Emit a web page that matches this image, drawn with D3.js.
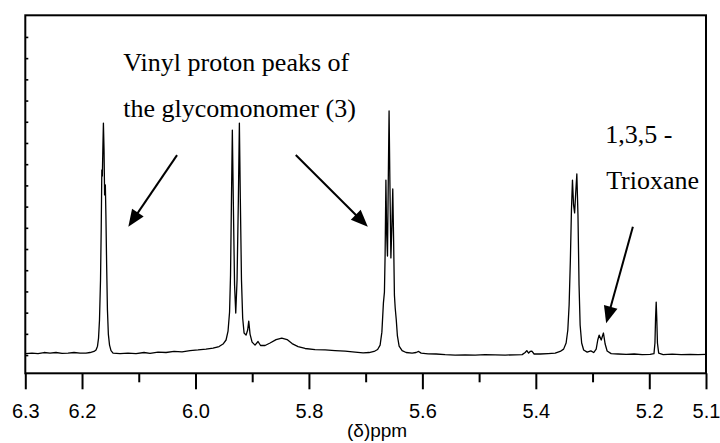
<!DOCTYPE html>
<html>
<head>
<meta charset="utf-8">
<script src="https://cdn.jsdelivr.net/npm/d3@7/dist/d3.min.js"></script>
<style>
  html, body { margin: 0; padding: 0; background: #fff; }
  svg { display: block; }
</style>
</head>
<body>
<svg id="chart" width="720" height="443"></svg>
<script>
// 1H NMR trace: chemical shift (ppm) and intensity (a.u.)
const shiftPpm = [
  6.3000, 6.2882, 6.2776, 6.2670, 6.2564, 6.2459, 6.2353, 6.2247, 6.2141, 6.2035,
  6.1930, 6.1859, 6.1789, 6.1753, 6.1727, 6.1709, 6.1692, 6.1674, 6.1662, 6.1651,
  6.1642, 6.1633, 6.1623, 6.1612, 6.1602, 6.1589, 6.1579, 6.1566, 6.1552, 6.1536,
  6.1515, 6.1489, 6.1453, 6.1330, 6.1189, 6.1048, 6.0907, 6.0801, 6.0660, 6.0519,
  6.0378, 6.0237, 6.0096, 5.9955, 5.9814, 5.9690, 5.9584, 5.9514, 5.9461, 5.9426,
  5.9399, 5.9382, 5.9367, 5.9350, 5.9332, 5.9311, 5.9290, 5.9267, 5.9244, 5.9226,
  5.9209, 5.9189, 5.9168, 5.9143, 5.9108, 5.9080, 5.9061, 5.9038, 5.9002, 5.8950,
  5.8897, 5.8853, 5.8773, 5.8685, 5.8579, 5.8479, 5.8385, 5.8297, 5.8191, 5.8068,
  5.7892, 5.7715, 5.7539, 5.7362, 5.7186, 5.7045, 5.6939, 5.6851, 5.6789, 5.6745,
  5.6714, 5.6687, 5.6669, 5.6657, 5.6643, 5.6629, 5.6615, 5.6601, 5.6587, 5.6573,
  5.6555, 5.6537, 5.6522, 5.6507, 5.6493, 5.6479, 5.6460, 5.6440, 5.6410, 5.6357,
  5.6287, 5.6181, 5.6111, 5.6066, 5.6022, 5.5899, 5.5758, 5.5599, 5.5423, 5.5247,
  5.5070, 5.4894, 5.4718, 5.4541, 5.4365, 5.4241, 5.4188, 5.4159, 5.4127, 5.4100,
  5.4070, 5.4030, 5.3924, 5.3783, 5.3659, 5.3571, 5.3510, 5.3466, 5.3436, 5.3413,
  5.3391, 5.3372, 5.3354, 5.3335, 5.3316, 5.3296, 5.3277, 5.3257, 5.3238, 5.3219,
  5.3192, 5.3157, 5.3095, 5.3030, 5.2980, 5.2936, 5.2908, 5.2884, 5.2847, 5.2808,
  5.2778, 5.2743, 5.2672, 5.2549, 5.2407, 5.2266, 5.2125, 5.1984, 5.1917, 5.1900,
  5.1889, 5.1878, 5.1868, 5.1856, 5.1834, 5.1755, 5.1596, 5.1438, 5.1279, 5.1138,
  5.1000
];
const intensity = [
  0.07, 0.09, 0.07, 0.12, 0.09, 0.12, 0.08, 0.09, 0.12, 0.09,
  0.09, 0.12, 0.17, 0.24, 0.42, 0.80, 1.65, 3.54, 5.90, 8.73,
  8.44, 9.67, 10.94, 9.67, 7.55, 8.02, 6.60, 4.25, 2.12, 0.99,
  0.47, 0.21, 0.09, 0.07, 0.09, 0.07, 0.12, 0.08, 0.14, 0.12,
  0.17, 0.15, 0.21, 0.24, 0.28, 0.33, 0.40, 0.52, 0.71, 1.13,
  2.03, 3.77, 7.08, 10.61, 7.08, 3.30, 1.98, 3.54, 7.31, 10.94,
  7.31, 3.54, 1.75, 1.04, 0.94, 1.18, 1.60, 0.99, 0.61, 0.47,
  0.64, 0.45, 0.45, 0.57, 0.73, 0.80, 0.73, 0.54, 0.40, 0.31,
  0.26, 0.24, 0.21, 0.19, 0.14, 0.10, 0.12, 0.17, 0.26, 0.47,
  1.08, 2.45, 2.97, 4.72, 8.25, 5.66, 4.67, 8.25, 11.51, 8.25,
  4.58, 6.13, 7.83, 5.42, 2.83, 2.22, 1.65, 0.90, 0.42, 0.21,
  0.12, 0.09, 0.12, 0.17, 0.09, 0.06, 0.05, 0.02, 0.00, 0.01,
  0.00, 0.02, 0.01, 0.00, 0.01, 0.02, 0.12, 0.21, 0.09, 0.17,
  0.19, 0.05, 0.05, 0.07, 0.09, 0.17, 0.28, 0.57, 1.18, 2.36,
  4.48, 6.84, 8.25, 7.08, 6.70, 7.69, 8.54, 6.60, 3.30, 1.42,
  0.57, 0.24, 0.14, 0.20, 0.12, 0.28, 0.71, 0.94, 0.71, 1.04,
  0.52, 0.19, 0.07, 0.05, 0.03, 0.05, 0.02, 0.03, 0.07, 0.57,
  1.75, 2.50, 1.75, 0.57, 0.09, 0.02, 0.04, 0.02, 0.03, 0.02,
  0.03
];

// x-axis ticks
const majorTicks = [6.3, 6.2, 6.0, 5.8, 5.6, 5.4, 5.2, 5.1];
const minorTicks = [6.1, 5.9, 5.7, 5.5, 5.3];
const yTicks = [0, 1, 2, 3, 4, 5, 6, 7, 8, 9, 10, 11, 12, 13, 14, 15];
const axisTitle = "(δ)ppm";

// annotation text (anchor in ppm / intensity)
const noteLines = ["Vinyl proton peaks of", "the glycomonomer (3)", "1,3,5 -", "Trioxane"];
const notePpm = [6.1272, 6.1272, 5.2778, 5.2760];
const noteInt = [13.40, 11.23, 10.00, 7.83];

// arrows: start -> tip (ppm / intensity)
const arrowFromPpm = [6.0325, 5.8232, 5.2289];
const arrowFromInt = [9.43, 9.43, 6.05];
const arrowToPpm = [6.1184, 5.6962, 5.2760];
const arrowToInt = [6.05, 6.05, 1.50];

const svg = d3.select("#chart");
const plotLeft = 25.3, plotRight = 706, plotTop = 15.3, plotBottom = 373.3;

const x = d3.scaleLinear().domain([6.3, 5.1]).range([plotLeft, plotRight]);
const y = d3.scaleLinear().domain([-0.86, 16.02]).range([plotBottom, plotTop]);

// spectrum
const pts = shiftPpm.map((p, i) => [p, intensity[i]]);
const line = d3.line().x(d => x(d[0])).y(d => y(d[1]));
svg.append("path")
  .datum(pts)
  .attr("d", line)
  .attr("fill", "none")
  .attr("stroke", "#000")
  .attr("stroke-width", 1.3)
  .attr("stroke-linejoin", "round");

// frame
svg.append("rect")
  .attr("x", plotLeft).attr("y", plotTop)
  .attr("width", plotRight - plotLeft).attr("height", plotBottom - plotTop)
  .attr("fill", "none").attr("stroke", "#000").attr("stroke-width", 2);

// y axis: short inward ticks, no labels
const yAxis = svg.append("g")
  .attr("transform", `translate(${plotLeft},0)`)
  .call(d3.axisLeft(y).tickValues(yTicks).tickSizeInner(-3).tickSizeOuter(0).tickFormat(""));
yAxis.select(".domain").remove();
yAxis.selectAll("line").attr("stroke", "#000").attr("stroke-width", 1.6);

// x axis: minor ticks
const xMinor = svg.append("g")
  .attr("transform", `translate(0,${plotBottom})`)
  .call(d3.axisBottom(x).tickValues(minorTicks).tickSizeInner(9).tickSizeOuter(0).tickFormat(""));
xMinor.select(".domain").remove();
xMinor.selectAll("line").attr("stroke", "#000").attr("stroke-width", 2);

// x axis: major ticks with labels
const xMajor = svg.append("g")
  .attr("transform", `translate(0,${plotBottom})`)
  .call(d3.axisBottom(x).tickValues(majorTicks).tickSizeInner(16).tickSizeOuter(0).tickFormat(d3.format(".1f")));
xMajor.select(".domain").remove();
xMajor.selectAll("line").attr("stroke", "#000").attr("stroke-width", 2);
xMajor.selectAll("text")
  .attr("y", 418 - plotBottom)
  .attr("dy", 0)
  .attr("fill", "#000")
  .style("font-family", "'Liberation Sans', Arial, sans-serif")
  .style("font-size", "20px");

// axis title
svg.append("text")
  .attr("x", 347).attr("y", 437)
  .style("font-family", "'Liberation Sans', Arial, sans-serif")
  .style("font-size", "19px")
  .attr("fill", "#000")
  .text(axisTitle);

// annotation text
svg.selectAll("text.note")
  .data(noteLines)
  .enter().append("text")
  .attr("class", "note")
  .attr("x", (d, i) => x(notePpm[i]))
  .attr("y", (d, i) => y(noteInt[i]))
  .style("font-family", "'Liberation Serif', 'Times New Roman', serif")
  .style("font-size", "26px")
  .attr("fill", "#000")
  .text(d => d);

// arrows with filled heads
const headLen = 17, headHalf = 7;
arrowFromPpm.forEach((p, i) => {
  const x1 = x(p), y1 = y(arrowFromInt[i]);
  const x2 = x(arrowToPpm[i]), y2 = y(arrowToInt[i]);
  const dx = x2 - x1, dy = y2 - y1, len = Math.hypot(dx, dy);
  const ux = dx / len, uy = dy / len;
  const bx = x2 - ux * headLen, by = y2 - uy * headLen;
  svg.append("line")
    .attr("x1", x1).attr("y1", y1)
    .attr("x2", bx + ux * 2).attr("y2", by + uy * 2)
    .attr("stroke", "#000").attr("stroke-width", 2);
  svg.append("polygon")
    .attr("points", [
      [x2, y2],
      [bx - uy * headHalf, by + ux * headHalf],
      [bx + uy * headHalf, by - ux * headHalf]
    ].map(q => q.join(",")).join(" "))
    .attr("fill", "#000");
});
</script>
</body>
</html>
